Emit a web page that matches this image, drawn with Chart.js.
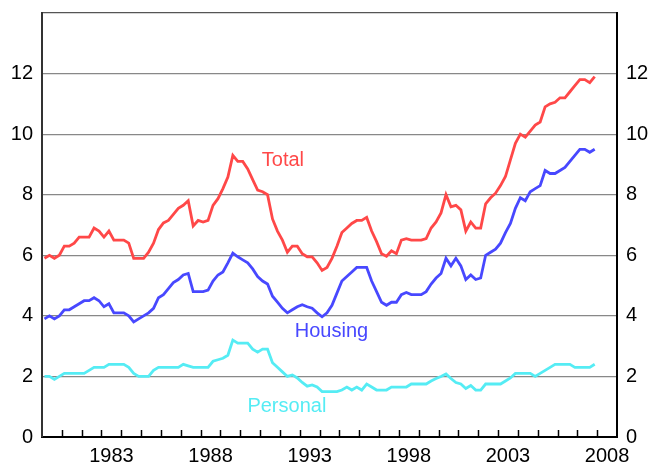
<!DOCTYPE html>
<html>
<head>
<meta charset="utf-8">
<script src="https://cdn.jsdelivr.net/npm/chart.js@4"></script>
<style>
  body { margin: 0; background: #fff; }
</style>
</head>
<body>
<canvas id="myChart" width="649" height="465"></canvas>
<script>
// quarterly data, 1980 Q1 .. 2007 Q4
const firstYear = 1980;
const lastYear = 2009;
const yearLabels = [1983, 1988, 1993, 1998, 2003, 2008];
const yTicks = [0, 2, 4, 6, 8, 10, 12, 14];

const total = [
  5.9, 6.0, 5.9, 6.0, 6.3, 6.3, 6.4, 6.6, 6.6, 6.6, 6.9, 6.8, 6.6, 6.8, 6.5, 6.5,
  6.5, 6.4, 5.9, 5.9, 5.9, 6.1, 6.4, 6.85, 7.07, 7.15, 7.35, 7.55, 7.65, 7.8, 6.97, 7.15,
  7.1, 7.15, 7.65, 7.87, 8.2, 8.58, 9.3, 9.1, 9.1, 8.85, 8.5, 8.15, 8.1, 8.0, 7.2, 6.8,
  6.5, 6.1, 6.3, 6.3, 6.05, 5.95, 5.95, 5.75, 5.5, 5.6, 5.9, 6.3, 6.75, 6.9, 7.05, 7.15,
  7.15, 7.25, 6.8, 6.45, 6.05, 5.97, 6.15, 6.05, 6.5, 6.55, 6.5, 6.5, 6.5, 6.55, 6.9, 7.1,
  7.4, 8.0, 7.6, 7.65, 7.5, 6.8, 7.1, 6.9, 6.9, 7.7, 7.9, 8.05, 8.3, 8.6, 9.15, 9.7,
  10.0, 9.9, 10.1, 10.3, 10.4, 10.9, 11.0, 11.05, 11.2, 11.2, 11.4, 11.6, 11.8, 11.8, 11.7, 11.9
];
const housing = [
  3.9, 4.0, 3.9, 4.0, 4.2, 4.2, 4.3, 4.4, 4.5, 4.5, 4.6, 4.5, 4.3, 4.4, 4.1, 4.1,
  4.1, 4.0, 3.8, 3.9, 4.0, 4.1, 4.25, 4.6, 4.7, 4.9, 5.1, 5.2, 5.35, 5.4, 4.8, 4.8,
  4.8, 4.85, 5.15, 5.35, 5.45, 5.75, 6.07, 5.95, 5.85, 5.75, 5.55, 5.3, 5.15, 5.05, 4.65, 4.45,
  4.25, 4.1, 4.2, 4.3, 4.37, 4.3, 4.25, 4.1, 3.97, 4.1, 4.35, 4.75, 5.15, 5.3, 5.45, 5.6,
  5.6, 5.6, 5.15, 4.8, 4.45, 4.35, 4.45, 4.45, 4.7, 4.77, 4.7, 4.7, 4.7, 4.8, 5.05, 5.25,
  5.4, 5.9, 5.65, 5.9, 5.65, 5.2, 5.35, 5.2, 5.25, 6.0, 6.1, 6.2, 6.4, 6.75, 7.05, 7.55,
  7.9, 7.8, 8.1, 8.2, 8.3, 8.8, 8.7, 8.7, 8.8, 8.9, 9.1, 9.3, 9.5, 9.5, 9.4, 9.5
];
const personal = [
  2.0, 2.0, 1.9, 2.0, 2.1, 2.1, 2.1, 2.1, 2.1, 2.2, 2.3, 2.3, 2.3, 2.4, 2.4, 2.4,
  2.4, 2.3, 2.1, 2.0, 2.0, 2.0, 2.2, 2.3, 2.3, 2.3, 2.3, 2.3, 2.4, 2.35, 2.3, 2.3,
  2.3, 2.3, 2.5, 2.55, 2.6, 2.7, 3.2, 3.1, 3.1, 3.1, 2.9, 2.8, 2.9, 2.9, 2.45, 2.3,
  2.15, 2.0, 2.05, 1.95, 1.8, 1.68, 1.72, 1.65, 1.5, 1.5, 1.5, 1.5, 1.55, 1.65, 1.55, 1.65,
  1.55, 1.75, 1.65, 1.55, 1.55, 1.55, 1.65, 1.65, 1.65, 1.65, 1.75, 1.75, 1.75, 1.75, 1.85, 1.93,
  2.0, 2.08, 1.93, 1.8, 1.75, 1.6, 1.7, 1.55, 1.55, 1.75, 1.75, 1.75, 1.75, 1.85, 1.95, 2.1,
  2.1, 2.1, 2.1, 2.0, 2.1, 2.2, 2.3, 2.4, 2.4, 2.4, 2.4, 2.3, 2.3, 2.3, 2.3, 2.4
];

const seriesNames = ['Total', 'Housing', 'Personal'];
const seriesColors = ['#ff4848', '#4848ff', '#55ecf4'];
// where each series name is written, as [year, value]
const namePlaces = [[1992.15, 9.13], [1994.6, 3.5], [1992.35, 1.0]];

const quarterX = total.map((v, i) => firstYear + (i + 0.5) / 4);
const font = { family: "'Liberation Sans', Arial, sans-serif", size: 20 };

const toPoints = vals => vals.map((v, i) => ({ x: quarterX[i], y: v }));

const fitY = w => s => { s.width = w; s.paddingTop = 0; s.paddingBottom = 0; };

const extras = {
  id: 'extras',
  afterDatasetsDraw(chart) {
    const { ctx, chartArea } = chart;
    const x = chart.scales.x, y = chart.scales.y;
    ctx.save();
    // small year ticks pointing into the plot
    ctx.strokeStyle = '#000';
    ctx.lineWidth = 1.5;
    for (let yr = firstYear + 1; yr < lastYear; yr++) {
      const px = Math.round(x.getPixelForValue(yr)) + 0.5;
      ctx.beginPath();
      ctx.moveTo(px, chartArea.bottom);
      ctx.lineTo(px, chartArea.bottom - 7);
      ctx.stroke();
    }
    // series names
    ctx.font = '20px ' + font.family;
    ctx.textAlign = 'center';
    ctx.textBaseline = 'middle';
    seriesNames.forEach((name, i) => {
      ctx.fillStyle = seriesColors[i];
      ctx.fillText(name, x.getPixelForValue(namePlaces[i][0]), y.getPixelForValue(namePlaces[i][1]));
    });
    ctx.restore();
  }
};

const ctx = document.getElementById('myChart');
new Chart(ctx, {
  type: 'line',
  data: {
    datasets: [total, housing, personal].map((vals, i) => ({
      label: seriesNames[i],
      data: toPoints(vals),
      borderColor: seriesColors[i],
      borderWidth: 2.8,
      pointRadius: 0,
      tension: 0,
      fill: false
    }))
  },
  options: {
    responsive: false,
    animation: false,
    layout: { autoPadding: false, padding: { top: 13, left: 0, right: 0, bottom: 0 } },
    plugins: { legend: { display: false }, tooltip: { enabled: false } },
    scales: {
      x: {
        type: 'linear',
        min: firstYear,
        max: lastYear,
        afterBuildTicks: s => { s.ticks = yearLabels.map(v => ({ value: v + 0.5 })); },
        afterFit: s => { s.height = 28; s.paddingLeft = 0; s.paddingRight = 0; },
        ticks: {
          font: font, color: '#000', maxRotation: 0, autoSkip: false, padding: 7,
          callback: v => String(Math.floor(v))
        },
        grid: { drawOnChartArea: false, drawTicks: false },
        border: { color: '#000', width: 2 }
      },
      y: {
        position: 'left',
        min: 0,
        max: 14,
        afterBuildTicks: s => { s.ticks = yTicks.map(v => ({ value: v })); },
        afterFit: fitY(42),
        ticks: {
          font: font, color: '#000', padding: 9,
          callback: v => (v === 14 ? '' : String(v))
        },
        grid: {
          drawTicks: false,
          lineWidth: 1.2,
          color: c => (c.tick.value === 0 ? 'rgba(0,0,0,0)' : c.tick.value === 14 ? '#555' : '#888')
        },
        border: { color: '#333', width: 2 }
      },
      y2: {
        position: 'right',
        min: 0,
        max: 14,
        afterBuildTicks: s => { s.ticks = yTicks.map(v => ({ value: v })); },
        afterFit: fitY(32),
        ticks: {
          font: font, color: '#000', padding: 9,
          callback: v => (v === 14 ? '' : String(v))
        },
        grid: { drawOnChartArea: false, drawTicks: false },
        border: { color: '#000', width: 2 }
      }
    }
  },
  plugins: [extras]
});
</script>
</body>
</html>
